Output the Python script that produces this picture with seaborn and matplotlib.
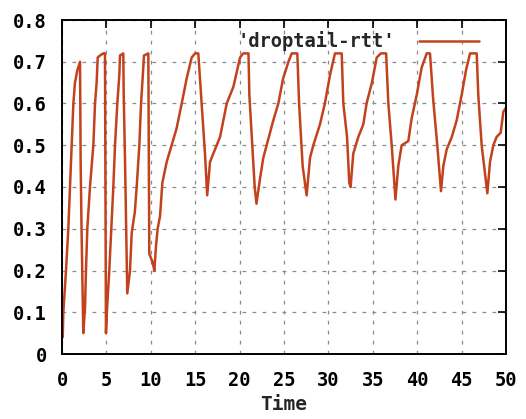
import matplotlib
matplotlib.use("Agg")
import matplotlib.pyplot as plt
import seaborn as sns
import pandas as pd

time = [0.08, 0.15, 0.45, 0.71, 0.9, 1.09, 1.28, 1.46, 1.73, 2.03, 2.1, 2.2, 2.4,
        2.59, 2.7, 2.85, 3.15, 3.34, 3.53, 3.72, 3.9, 4.02, 4.28, 4.65, 4.84, 4.95,
        5.1, 5.3, 5.55, 5.78, 5.97, 6.23, 6.46, 6.53, 6.9, 6.95, 7.1, 7.35,
        7.66, 7.85, 8.2, 8.41, 8.71, 8.9, 9.08, 9.23, 9.72, 9.83, 10.2, 10.4,
        10.59, 10.77, 11.04, 11.3, 11.79, 12.35, 12.9, 13.48, 14.04, 14.6, 14.98,
        15.35, 15.54, 15.73, 16.1, 16.35,
        16.67, 17.04, 17.8, 18.55, 19.3, 20.05, 20.4, 21.0, 21.1, 21.35, 21.7, 21.9,
        22.3, 22.67, 23.05, 23.8, 24.36, 24.9, 25.5, 25.87, 26.5, 26.7, 27.1, 27.55,
        27.93, 28.3, 29.05, 29.6, 30.2, 30.74, 31.5, 31.68, 32.1, 32.35, 32.5,
        32.8, 33.37, 33.93, 34.3, 34.9, 35.44, 35.9, 36.5, 36.75, 37.13, 37.55,
        37.87, 38.25, 39.0, 39.38, 39.94, 40.5, 41.07, 41.44, 41.8, 42.26, 42.68,
        42.94, 43.32, 43.9, 44.45, 45.0, 45.5, 45.95, 46.7, 46.88, 47.26, 47.6, 47.9,
        48.2, 48.57, 48.95, 49.4, 49.7, 50.0]

rtt = [0.04, 0.10, 0.20, 0.30, 0.40, 0.50, 0.60, 0.65, 0.68, 0.70, 0.46, 0.30, 0.05,
       0.11, 0.20, 0.30, 0.40, 0.45, 0.50, 0.60, 0.65, 0.71, 0.715, 0.72, 0.72, 0.05,
       0.12, 0.19, 0.30, 0.40, 0.50, 0.60, 0.67, 0.715, 0.72, 0.62, 0.46, 0.145,
       0.20, 0.29, 0.34, 0.40, 0.50, 0.60, 0.66, 0.715, 0.72, 0.24, 0.22, 0.20,
       0.26, 0.30, 0.33, 0.41, 0.46, 0.50, 0.54, 0.60, 0.66, 0.71, 0.72,
       0.72, 0.66, 0.60, 0.48, 0.38,
       0.46, 0.48, 0.52, 0.60, 0.64, 0.71, 0.72, 0.72, 0.62, 0.53, 0.40, 0.36,
       0.42, 0.47, 0.50, 0.56, 0.60, 0.66, 0.70, 0.72, 0.72, 0.60, 0.45, 0.38,
       0.47, 0.50, 0.55, 0.60, 0.67, 0.72, 0.72, 0.60, 0.52, 0.41, 0.40,
       0.48, 0.52, 0.55, 0.60, 0.65, 0.71, 0.72, 0.72, 0.60, 0.50, 0.37,
       0.45, 0.50, 0.51, 0.565, 0.62, 0.686, 0.72, 0.72, 0.61, 0.50, 0.39,
       0.45, 0.49, 0.52, 0.56, 0.62, 0.68, 0.72, 0.72, 0.62, 0.50, 0.44, 0.385,
       0.46, 0.50, 0.52, 0.53, 0.58, 0.59]

x_ticks = [0, 5, 10, 15, 20, 25, 30, 35, 40, 45, 50]
y_ticks = [0, 0.1, 0.2, 0.3, 0.4, 0.5, 0.6, 0.7, 0.8]
y_labels = ["0", "0.1", "0.2", "0.3", "0.4", "0.5", "0.6", "0.7", "0.8"]
series_name = "'droptail-rtt'"

sns.set_style("white")
plt.rcParams['font.family'] = ['DejaVu Sans Mono', 'DejaVu Sans']
plt.rcParams['font.weight'] = 'bold'

df = pd.DataFrame({"Time": time, "rtt": rtt, "series": series_name})

fig = plt.figure(figsize=(5.26, 4.19), dpi=100)
ax = fig.add_axes([62/526, (419-354)/419, (506-62)/526, (354-20)/419])

line_color = "#c2421d"
sns.lineplot(data=df, x="Time", y="rtt", hue="series", palette=[line_color],
             estimator=None, sort=False, linewidth=1.8, ax=ax)

ax.set_xlim(0, 50)
ax.set_ylim(0, 0.8)
ax.set_xticks(x_ticks)
ax.set_xticklabels([str(t) for t in x_ticks])
ax.set_yticks(y_ticks)
ax.set_yticklabels(y_labels)
ax.grid(True, color="#8a8a8a", linestyle=(0, (3, 5)), linewidth=0.9)
ax.tick_params(direction="in", length=6, width=1.2, top=True, right=True,
               labelsize=13.5, colors="black")
ax.tick_params(axis="y", pad=11)
ax.tick_params(axis="x", pad=12)
for lab in ax.get_xticklabels() + ax.get_yticklabels():
    lab.set_fontweight("bold")
for s in ax.spines.values():
    s.set_color("black")
    s.set_linewidth(1.4)
    s.set_visible(True)

ax.set_xlabel("Time", fontsize=14, fontweight="bold", labelpad=4)
ax.set_ylabel("")

leg = ax.legend(loc="upper right", bbox_to_anchor=(0.965, 1.0), frameon=False,
                markerfirst=False, fontsize=13.5, handlelength=3.2,
                handletextpad=1.3, borderaxespad=0.2, title=None)
for t in leg.get_texts():
    t.set_fontweight("bold")

fig.savefig("out.png", dpi=100)
